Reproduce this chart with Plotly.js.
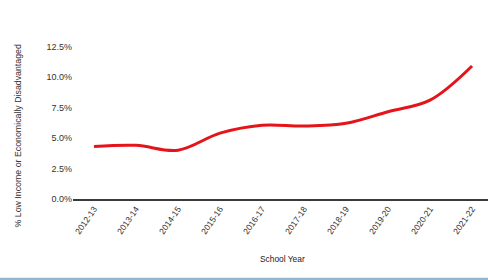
<!DOCTYPE html>
<html>
<head>
<meta charset="utf-8">
<script src="https://cdn.plot.ly/plotly-3.0.1.min.js"></script>
<style>
html,body{margin:0;padding:0;background:#fff;}
#chart{width:488px;height:280px;}
</style>
</head>
<body>
<div id="chart"></div>
<script>
const schoolYears = ["2012-13","2013-14","2014-15","2015-16","2016-17","2017-18","2018-19","2019-20","2020-21","2021-22"];
const pctLowIncome = [4.3, 4.4, 4.0, 5.4, 6.05, 5.98, 6.2, 7.15, 8.1, 10.9];
const yTickVals = [0, 2.5, 5, 7.5, 10, 12.5];
const yTickText = ["0.0%","2.5%","5.0%","7.5%","10.0%","12.5%"];
const yTitle = "% Low Income or Economically Disadvantaged";
const xTitle = "School Year";

const trace = {
  x: schoolYears,
  y: pctLowIncome,
  type: "scatter",
  mode: "lines",
  line: {color: "#e5141b", width: 3, shape: "spline", smoothing: 1},
  hoverinfo: "skip"
};

const layout = {
  width: 488, height: 280,
  margin: {l: 73, r: 0, t: 30, b: 81},
  paper_bgcolor: "#ffffff",
  plot_bgcolor: "#ffffff",
  showlegend: false,
  font: {family: "Liberation Sans, Arial, sans-serif", size: 9, color: "#333"},
  xaxis: {
    type: "category",
    range: [-0.5, 9.38],
    showgrid: false, zeroline: false,
    showline: true, linecolor: "#3a3a3a", linewidth: 1.7,
    ticks: "", tickangle: -55,
    tickfont: {size: 8.6, color: "#333"}
  },
  yaxis: {
    range: [0, 13.85],
    showgrid: false, zeroline: false, showline: false,
    tickvals: yTickVals, ticktext: yTickText,
    ticks: "", ticklen: 0,
    tickfont: {size: 9, color: "#333"}
  },
  annotations: [
    {text: yTitle, textangle: -90, xref: "paper", yref: "paper",
     x: -0.1325, y: 0.37, showarrow: false, xanchor: "center", yanchor: "middle",
     font: {size: 8.8, color: "#333"}},
    {text: xTitle, xref: "paper", yref: "paper",
     x: 0.506, y: -0.355, showarrow: false, xanchor: "center", yanchor: "middle",
     font: {size: 8.4, color: "#222"}}
  ],
  shapes: [
    {type: "rect", xref: "paper", yref: "paper", x0: -0.2, x1: 1.02, y0: -0.479, y1: -0.466,
     line: {width: 0}, fillcolor: "#8fb8d6", layer: "above"}
  ]
};

Plotly.newPlot("chart", [trace], layout, {staticPlot: true, displayModeBar: false});
</script>
</body>
</html>
